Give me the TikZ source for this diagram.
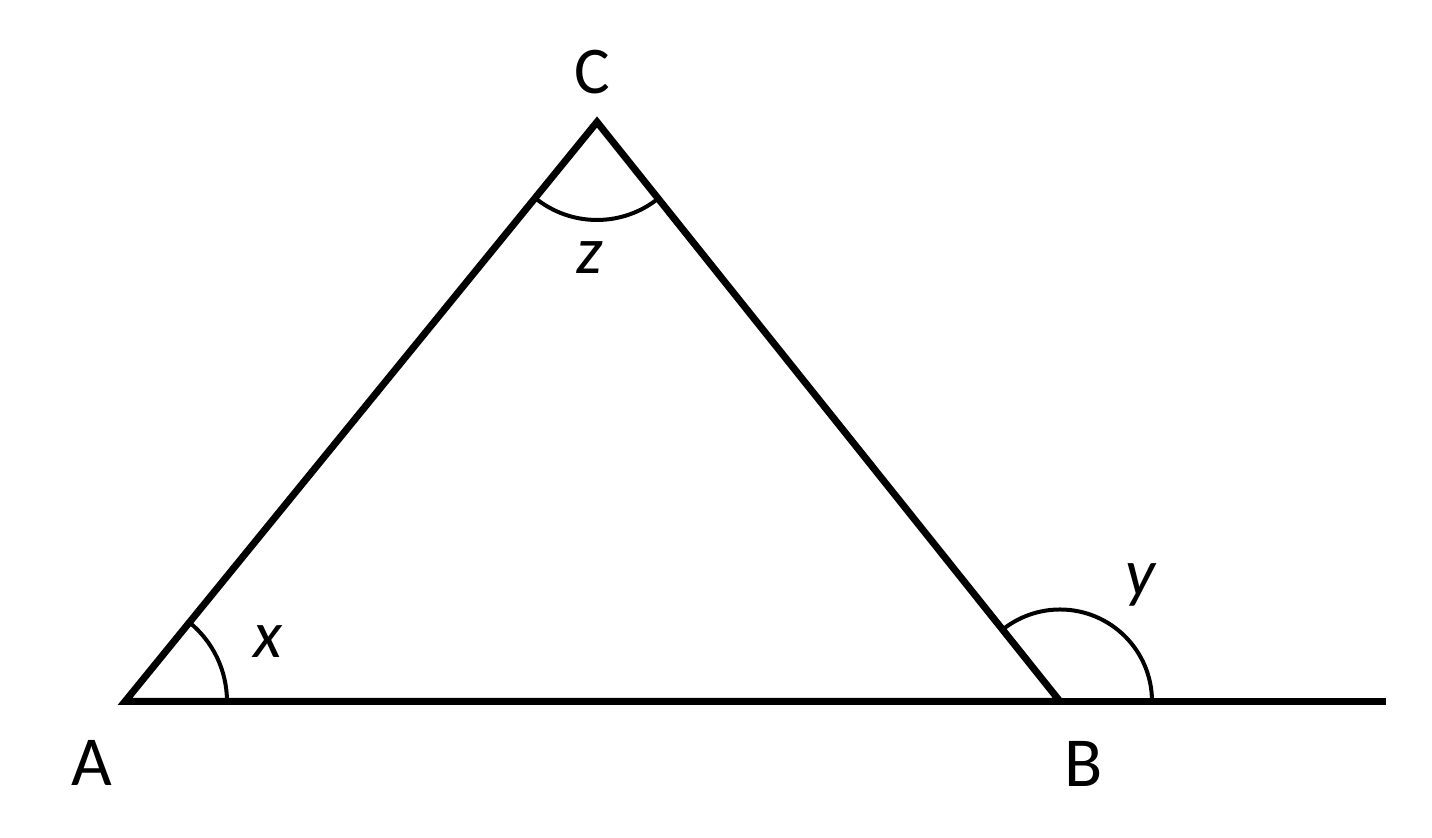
\documentclass[tikz,border=0pt]{standalone}
\usepackage{fontspec}
\setmainfont{Carlito}
\usetikzlibrary{positioning}

\tikzset{
  side/.style={black, line width=0.07cm},
  anglearc/.style={black, line width=0.04cm},
  vlabel/.style={inner sep=0pt, font=\fontsize{20}{22}\selectfont},
  alabel/.style={inner sep=0pt, font=\fontsize{19}{21}\selectfont\itshape}
}

\begin{document}
\begin{tikzpicture}
\useasboundingbox (0,0) rectangle (14.32,8.38);

\coordinate (A) at (1.25,1.365);
\coordinate (B) at (10.60,1.365);
\coordinate (C) at (5.97,7.16);
\coordinate (E) at (13.86,1.365);

% triangle and extended base
\draw[side, line join=miter] (B) -- (A) -- (C) -- cycle;
\draw[side] (B) -- (E);

% angle arcs
\draw[anglearc] ([shift={(0:1.02)}]A) arc [start angle=0, end angle=51.1, radius=1.02];
\draw[anglearc] ([shift={(231.1:0.98)}]C) arc [start angle=231.1, end angle=308.8, radius=0.98];
\draw[anglearc] ([shift={(0:0.92)}]B) arc [start angle=0, end angle=128.8, radius=0.92];

% labels
\node[vlabel] (lA) at (0.92,0.75) {A};
\node[vlabel] (lB) at (10.84,0.74) {B};
\node[vlabel, font=\fontsize{19}{21}\selectfont] (lC) at (5.92,7.66) {C};

\node[alabel] (lx) at (2.68,1.96) {x};
\node[alabel] (ly) at (11.40,2.53) {y};
\node[alabel] (lz) at (5.90,5.80) {z};

\end{tikzpicture}
\end{document}
